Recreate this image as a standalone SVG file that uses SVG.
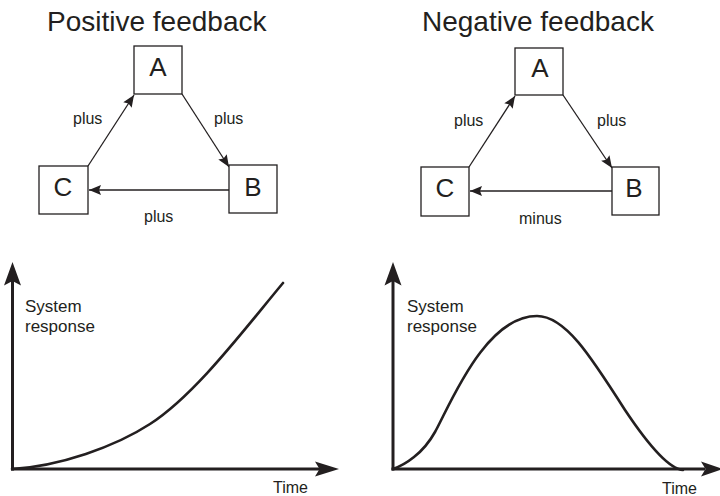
<svg xmlns="http://www.w3.org/2000/svg" width="720" height="496" viewBox="0 0 720 496">
<defs>
<style>
.box{fill:#fff;stroke:#231f20;stroke-width:1.3}
.lbl{font-family:"Liberation Sans",Arial,sans-serif;fill:#231f20}
.title{font-size:28px}
.letter{font-size:26px;text-anchor:middle}
.small{font-size:16px}
.axtxt{font-size:17px}
.conn{stroke:#231f20;stroke-width:1.3;fill:none}
.axis{stroke:#231f20;stroke-width:3;fill:none}
.ahead{fill:#231f20;stroke:none}
.curve{stroke:#231f20;stroke-width:2.6;fill:none;stroke-linecap:round}
</style>
<marker id="arr" markerUnits="userSpaceOnUse" markerWidth="14" markerHeight="12" viewBox="-13 -6 14 12" refX="0" refY="0" orient="auto">
<path d="M0,0 L-12,-5 L-10,0 L-12,5 Z" fill="#231f20"/>
</marker>
</defs>
<rect width="720" height="496" fill="#fff"/>

<text class="lbl title" x="47" y="31">Positive feedback</text>
<text class="lbl title" x="422" y="31">Negative feedback</text>

<g id="connectors">
<line class="conn" x1="88" y1="166" x2="134" y2="95" marker-end="url(#arr)"/>
<line class="conn" x1="182" y1="94" x2="229" y2="167" marker-end="url(#arr)"/>
<line class="conn" x1="229" y1="190" x2="89" y2="190" marker-end="url(#arr)"/>
<line class="conn" x1="469" y1="167" x2="515" y2="96" marker-end="url(#arr)"/>
<line class="conn" x1="563" y1="95" x2="612" y2="168" marker-end="url(#arr)"/>
<line class="conn" x1="612" y1="191" x2="470" y2="191" marker-end="url(#arr)"/>
</g>

<g id="pos-A"><rect class="box" x="134" y="46" width="48" height="48"/><text class="lbl letter" x="158" y="76">A</text></g>
<g id="pos-B"><rect class="box" x="229" y="165" width="48" height="48"/><text class="lbl letter" x="253" y="196">B</text></g>
<g id="pos-C"><rect class="box" x="39" y="166" width="49" height="48"/><text class="lbl letter" x="63" y="196">C</text></g>

<g id="neg-A"><rect class="box" x="515" y="48" width="48" height="47"/><text class="lbl letter" x="540" y="77">A</text></g>
<g id="neg-B"><rect class="box" x="612" y="167" width="47" height="48"/><text class="lbl letter" x="634" y="197">B</text></g>
<g id="neg-C"><rect class="box" x="421" y="167" width="48" height="49"/><text class="lbl letter" x="445" y="197">C</text></g>

<g id="edge-labels">
<text class="lbl small" x="73" y="124">plus</text>
<text class="lbl small" x="214" y="124">plus</text>
<text class="lbl small" x="144" y="222">plus</text>
<text class="lbl small" x="454" y="126">plus</text>
<text class="lbl small" x="597" y="126">plus</text>
<text class="lbl small" x="519" y="224">minus</text>
</g>

<g id="graph-positive">
<line class="axis" x1="12.5" y1="470.5" x2="12.5" y2="280"/>
<path class="ahead" d="M12.5,262 L21,285.5 L12.5,281 L4,285.5 Z"/>
<line class="axis" x1="11" y1="469" x2="320" y2="469"/>
<path class="ahead" d="M339,469 L315,461.5 L319.5,469 L315,476.5 Z"/>
<path class="curve" d="M12,469 C60,466 115,446.75 150,424 C195,395 243,331 283,283"/>
<text class="lbl axtxt" x="25" y="312">System</text>
<text class="lbl axtxt" x="25" y="332">response</text>
<text class="lbl small" x="273" y="493">Time</text>
</g>

<g id="graph-negative">
<line class="axis" x1="393" y1="470.5" x2="393" y2="280"/>
<path class="ahead" d="M393,262 L401.5,285.5 L393,281 L384.5,285.5 Z"/>
<line class="axis" x1="391.5" y1="469" x2="705" y2="469"/>
<path class="ahead" d="M723,469 L701,461.5 L705.5,469 L701,476.5 Z"/>
<path class="curve" d="M393,469 C405,465 423,453.6 435,432 C450,405 485,316 537,316 C565,316 590,355 625,410 C645,440 668,469 683,470"/>
<text class="lbl axtxt" x="407" y="312">System</text>
<text class="lbl axtxt" x="407" y="332">response</text>
<text class="lbl small" x="662" y="494">Time</text>
</g>
</svg>
